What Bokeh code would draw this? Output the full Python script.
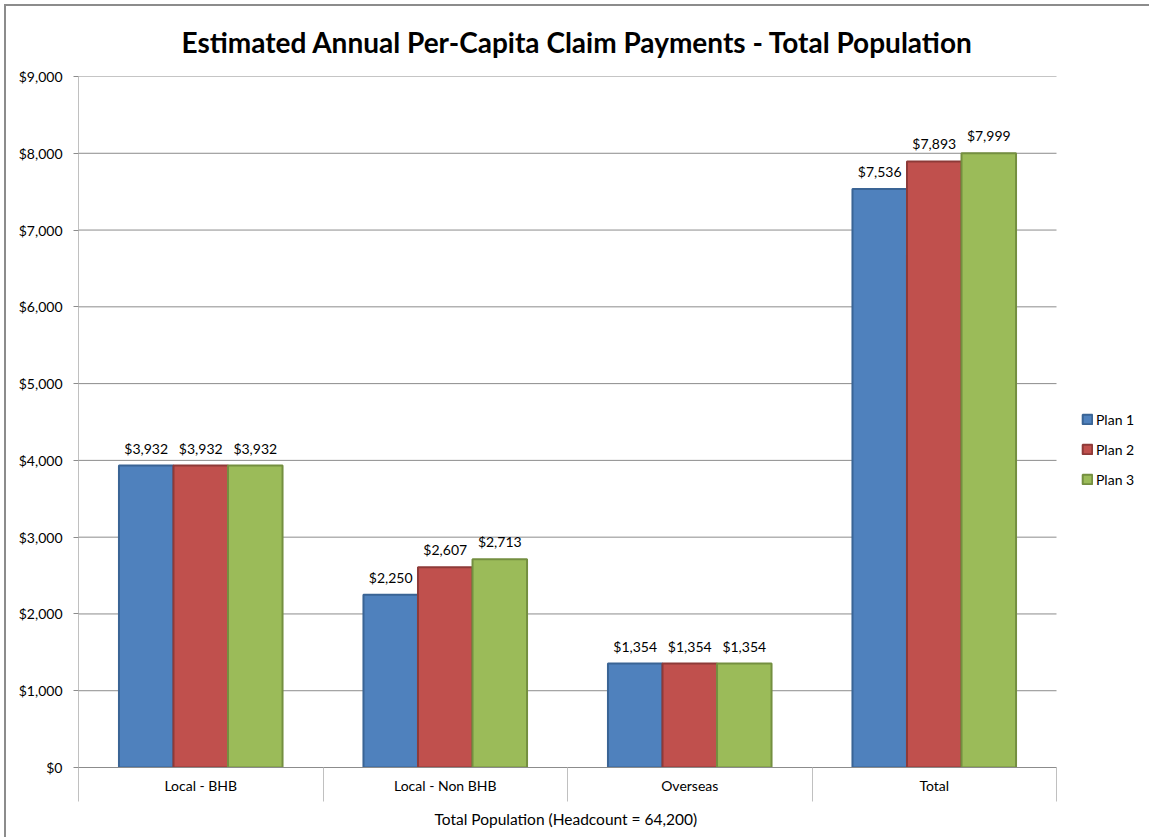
from bokeh.plotting import figure
from bokeh.models import (ColumnDataSource, FixedTicker, NumeralTickFormatter, LabelSet,
                          Legend, LegendItem, Range1d, Title)
from bokeh.core.properties import value
from bokeh.embed import file_html
from bokeh.resources import INLINE

# ---------------- data ----------------
categories = ["Local - BHB", "Local - Non BHB", "Overseas", "Total"]
plans = ["Plan 1", "Plan 2", "Plan 3"]
plan1 = [3932, 2250, 1354, 7536]
plan2 = [3932, 2607, 1354, 7893]
plan3 = [3932, 2713, 1354, 7999]
y_ticks = [0, 1000, 2000, 3000, 4000, 5000, 6000, 7000, 8000, 9000]
title_text = "Estimated Annual Per-Capita Claim Payments - Total Population"
x_axis_title = "Total Population (Headcount = 64,200)"

# ---------------- style ----------------
fills = ["#4F81BD", "#C0504D", "#9BBB59"]
edges = ["#3A6495", "#8E3A38", "#748F40"]
FONT = "Lato"
OFF = 6                      # page offset of the canvas (margin + border)
W, H = 1151 - OFF, 839 - OFF
PLOT_L, PLOT_R, PLOT_T, PLOT_B = 78, 1056, 76, 768   # page px of the value area
ML, MT = PLOT_L - OFF, PLOT_T - OFF
MB = H - (PLOT_B - OFF)
YMAX = y_ticks[-1]
NCAT = len(categories)
BAR_W = 0.223
# the frame runs to the right edge of the canvas so the legend can sit in it
X_END = NCAT * (W - ML) / (PLOT_R - PLOT_L)

p = figure(width=W, height=H, x_range=Range1d(0, X_END), y_range=Range1d(0, YMAX),
           output_backend="svg", toolbar_location=None,
           min_border_left=ML, min_border_right=0, min_border_top=MT, min_border_bottom=MB,
           styles={"margin-left": "4px", "margin-top": "4px",
                   "border-left": "2px solid #8C8C8C", "border-top": "2px solid #8C8C8C"})
p.outline_line_color = None
p.background_fill_color = "white"
p.border_fill_color = "white"

centers = [i + 0.5 for i in range(NCAT)]
bounds = list(range(NCAT + 1))

# horizontal gridlines limited to the category area
p.segment(x0=[0] * len(y_ticks), x1=[NCAT] * len(y_ticks), y0=y_ticks, y1=y_ticks,
          line_color="#8C8C8C", line_width=1)

items = []
for j, (name, vals) in enumerate(zip(plans, [plan1, plan2, plan3])):
    off = (j - 1) * BAR_W
    src = ColumnDataSource(dict(
        x=[c + off for c in centers],
        top=vals,
        lbl=["${:,}".format(v) for v in vals],
    ))
    r = p.vbar(x="x", top="top", bottom=0, width=BAR_W, source=src,
               fill_color=fills[j], line_color=edges[j], line_width=2)
    items.append(LegendItem(label=name, renderers=[r]))
    labels = LabelSet(x="x", y="top", text="lbl", source=src, y_offset=9,
                      text_align="center", text_baseline="bottom",
                      text_font=value(FONT), text_font_size=value("14px"),
                      text_color="#000000")
    p.add_layout(labels)

# title
p.title.text = title_text
p.title.align = "left"
p.title.offset = 103
p.title.vertical_align = "middle"
p.title.standoff = 33
p.title.text_font = FONT
p.title.text_font_style = "bold"
p.title.text_font_size = "28px"
p.title.text_color = "#000000"

# y axis
ya = p.yaxis[0]
ya.ticker = FixedTicker(ticks=y_ticks)
ya.formatter = NumeralTickFormatter(format="$0,0")
ya.major_tick_out = 5
ya.major_tick_in = 0
ya.minor_tick_out = 0
ya.minor_tick_in = 0
ya.major_tick_line_color = "#8C8C8C"
ya.axis_line_color = "#C0C0C0"
ya.major_label_standoff = 11
ya.major_label_text_font = FONT
ya.major_label_text_font_size = "14px"
ya.major_label_text_color = "#000000"

# x axis
xa = p.xaxis[0]
xa.bounds = (0, NCAT)
xa.ticker = FixedTicker(ticks=centers, minor_ticks=bounds)
xa.major_label_overrides = {c: cat for c, cat in zip(centers, categories)}
xa.major_tick_out = 0
xa.major_tick_in = 0
xa.minor_tick_out = 34
xa.minor_tick_in = 0
xa.minor_tick_line_color = "#C0C0C0"
xa.axis_line_color = "#8C8C8C"
xa.major_label_standoff = -25
xa.major_label_text_font = FONT
xa.major_label_text_font_size = "14px"
xa.major_label_text_color = "#000000"

p.add_layout(Title(text=x_axis_title, align="left", offset=356, standoff=23,
                   text_font=FONT, text_font_style="normal", text_font_size="15.5px",
                   text_color="#000000"), "below")

# grid
p.xgrid.visible = False
p.ygrid.visible = False

legend = Legend(items=items, location=(1081 - PLOT_L, 278), orientation="vertical",
                glyph_width=12, glyph_height=12, label_height=20, spacing=10,
                padding=0, margin=0, label_standoff=3,
                label_text_font=FONT, label_text_font_size="14px",
                label_text_color="#000000",
                border_line_color=None, background_fill_alpha=0)
p.add_layout(legend)

open("out.html", "w").write(file_html(p, INLINE))
